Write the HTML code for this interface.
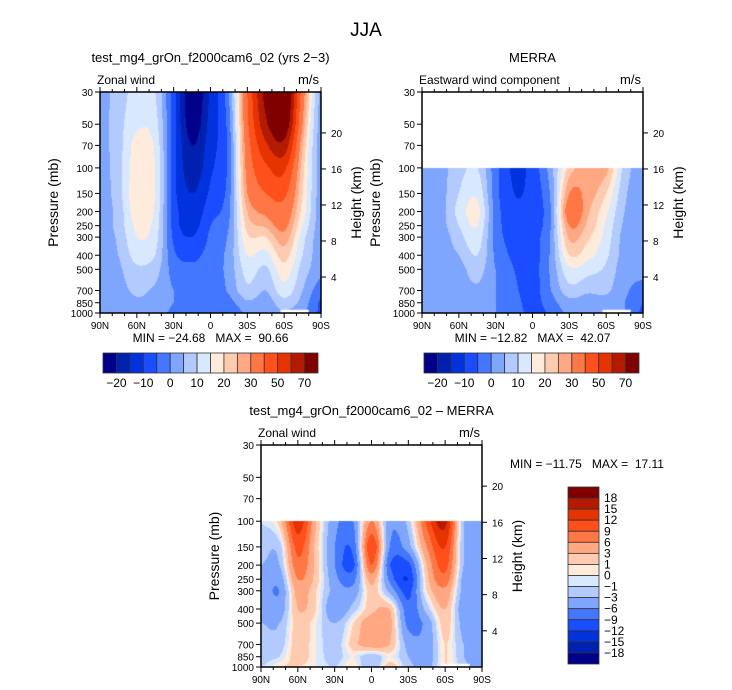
<!DOCTYPE html>
<html><head><meta charset="utf-8">
<style>
body{margin:0;background:#fff;}
#wrap{position:relative;width:732px;height:690px;overflow:hidden;font-family:"Liberation Sans",sans-serif;}
svg text{font-family:"Liberation Sans",sans-serif;fill:#000;white-space:pre;}
canvas{position:absolute;}
</style></head>
<body>
<div id="wrap">
<canvas id="c1"></canvas>
<canvas id="c2"></canvas>
<canvas id="c3"></canvas>
<svg id="svg" width="732" height="690" style="position:absolute;left:0;top:0"></svg>
</div>
<script>
// ---------- data ----------
const latLabels = ["90N","60N","30N","0","30S","60S","90S"];
const lats = [90,75,60,45,30,15,0,-15,-30,-45,-60,-75,-90];
const presLevels = [30,50,70,100,150,200,250,300,400,500,700,850,1000];
const presTicks = [30,50,70,100,150,200,250,300,400,500,700,850,1000];
const heightTicks = [4,8,12,16,20];
const topLevels = [-20,-15,-10,-5,0,5,10,15,20,25,30,40,50,60,70];
const topLevelLabels = ["-20","-10","0","10","20","30","50","70"];
const diffLevels = [-18,-15,-12,-9,-6,-3,-1,0,1,3,6,9,12,15,18];
const diffLevelLabels = ["18","15","12","9","6","3","1","0","-1","-3","-6","-9","-12","-15","-18"];
const colors = ["#00008a","#0020b0","#0033dd","#1a4dff","#4477ff","#7fa6ff","#b3caff","#d8e8ff","#ffebdb","#ffcbb0","#ffa882","#ff7744","#ff4f1a","#e63300","#b31a00","#800000"];

// model zonal wind (rows = presLevels, cols = lats)
const modelWind = [
[3,7,12,10,-8,-25,-14,0,40,75,88,35,3],
[3,8,14,12,-8,-23,-13,-2,38,68,80,30,2],
[3,8,17,14,-8,-20,-12,-3,35,58,66,25,2],
[3,8,18,15,-8,-18,-11,-3,33,48,52,22,2],
[2,8,19,15,-8,-15,-9,-2,30,40,42,20,2],
[2,7,18,14,-7,-13,-7,-1,25,32,36,18,2],
[2,7,16,13,-7,-12,-5,0,22,26,32,15,2],
[2,6,15,12,-6,-10,-4,1,19,20,28,12,2],
[2,5,12,10,-4,-6,-3,2,15,13,22,10,2],
[2,4,9,7,-2,-4,-3,2,12,9,18,8,2],
[2,3,6,4,0,-3,-4,1,9,5,13,5,-3],
[2,2,4,3,0,-2,-5,-2,4,2,8,3,-6],
[2,2,3,2,-1,-2,-4,-5,1,1,4,1,-6]];
// MERRA (null = no data above 100 mb)
const merraWind = [
null,null,null,
[2,3,8,10,-3,-11,-8,3,22,27,27,8,3],
[2,3,10,14,-3,-10,-8,1,30,28,20,6,3],
[2,3,12,17,-2,-9,-7,0,36,26,16,5,2],
[2,3,10,15,-2,-8,-7,0,30,24,14,4,2],
[2,2,8,13,-2,-7,-7,1,26,21,13,3,2],
[2,2,5,10,-1,-6,-7,1,20,17,11,3,2],
[1,1,3,7,0,-5,-7,1,14,12,9,2,2],
[1,1,2,4,0,-4,-7,0,8,6,6,1,-2],
[1,1,1,2,0,-3,-7,-2,3,2,3,0,-5],
[1,1,1,1,0,-2,-7,-4,1,0,1,0,-6]];
const diffWind = [
null,null,null,
[-1,2,14,3,-5,-6,6,-5,-2,10,16,-3,-3],
[-2,-2,10,2,-6,-8,12,-6,-4,6,12,-3,-3],
[-3,-3,8,2,-6,-10,9,-9,-10,3,10,-3,-4],
[-4,-5,6,2,-5,-7,4,-7,-12,2,8,-4,-4],
[-4,-6,4,1,-4,-5,2,-4,-10,1,5,-4,-4],
[-3,-5,3,1,-6,-2,2,3,-8,-2,3,-5,-3],
[-3,-3,2,0,-3,1,5,4,-7,-5,2,-4,-3],
[-2,-2,2,0,-2,2,5,3,-4,-5,1,-3,-3],
[-2,-1,2,0,-2,0,-3,0,-3,-5,1,-3,-6],
[-1,1,1,0,-1,1,-3,2,-2,-4,1,-2,-5]];

// ---------- layout ----------
const panels = [
 {id:"c1",x0:100,x1:321,y0:92,y1:313,data:modelWind,levels:topLevels,name:"model"},
 {id:"c2",x0:422,x1:643,y0:92,y1:313,data:merraWind,levels:topLevels,name:"merra"},
 {id:"c3",x0:261,x1:482,y0:445,y1:667,data:diffWind,levels:diffLevels,name:"diff"}];
const LP0=Math.log(30), LP1=Math.log(1000);
function yOfP(p,P){return P.y0+(Math.log(p)-LP0)/(LP1-LP0)*(P.y1-P.y0);}
function xOfLat(l,P){return P.x0+(90-l)/180*(P.x1-P.x0);}
function lvlIdx(v,levels){let i=0;while(i<levels.length&&v>=levels[i])i++;return i;}
const lpl = presLevels.map(Math.log);
function cr(row,fx){
  const n=row.length; let i=Math.min(n-2,Math.floor(fx)); const t=fx-i;
  const g=k=>row[Math.max(0,Math.min(n-1,k))];
  const p0=g(i-1),p1=g(i),p2=g(i+1),p3=g(i+2);
  return 0.5*((2*p1)+(-p0+p2)*t+(2*p0-5*p1+4*p2-p3)*t*t+(-p0+3*p1-3*p2+p3)*t*t*t);
}
function sample(data,lat,p){
  const fx=(90-lat)/15;
  const lp=Math.log(p); let j=0; while(j<11&&lp>lpl[j+1])j++;
  const ty=(lp-lpl[j])/(lpl[j+1]-lpl[j]);
  if(!data[j]) return null;
  const a=cr(data[j],fx), b=cr(data[j+1],fx);
  return a*(1-ty)+b*ty;
}
const rgb=colors.map(c=>[parseInt(c.substr(1,2),16),parseInt(c.substr(3,2),16),parseInt(c.substr(5,2),16)]);
panels.forEach(P=>{
  const cv=document.getElementById(P.id); const w=P.x1-P.x0,h=P.y1-P.y0;
  cv.width=w;cv.height=h;cv.style.left=P.x0+"px";cv.style.top=P.y0+"px";
  const ctx=cv.getContext("2d"); const im=ctx.createImageData(w,h);
  for(let y=0;y<h;y++){const p=Math.exp(LP0+(y+0.5)/h*(LP1-LP0));
    for(let x=0;x<w;x++){const lat=90-(x+0.5)/w*180; const v=sample(P.data,lat,p); const k=(y*w+x)*4;
      if(v===null){im.data[k]=255;im.data[k+1]=255;im.data[k+2]=255;im.data[k+3]=255;continue;}
      const c=rgb[lvlIdx(v,P.levels)]; im.data[k]=c[0];im.data[k+1]=c[1];im.data[k+2]=c[2];im.data[k+3]=255;}}
  ctx.putImageData(im,0,0);
  ctx.fillStyle="#fff"; const bx=xOfLat(-57,P)-P.x0, bx2=xOfLat(-80,P)-P.x0, by=yOfP(950,P)-P.y0;
  ctx.fillRect(bx,by,bx2-bx,h-by);
});

// ---------- svg ----------
const svg=document.getElementById("svg"); const NS="http://www.w3.org/2000/svg";
function el(tag,attrs,parent){const e=document.createElementNS(NS,tag);for(const k in attrs)e.setAttribute(k,attrs[k]);(parent||svg).appendChild(e);return e;}
function txt(s,x,y,size,anchor,parent,rot){const t=el("text",{x:x,y:y,"font-size":size,"text-anchor":anchor||"middle"},parent);if(rot)t.setAttribute("transform",`rotate(${rot} ${x} ${y})`);t.textContent=s.replace(/-/g,"\u2212");return t;}

const t0=txt("JJA",366,36,19);



const titles=[["test_mg4_grOn_f2000cam6_02 (yrs 2-3)","Zonal wind","MIN = -24.68   MAX =  90.66"],
 ["MERRA","Eastward wind component","MIN = -12.82   MAX =  42.07"],
 ["test_mg4_grOn_f2000cam6_02 - MERRA","Zonal wind","MIN = -11.75   MAX =  17.11"]];
panels.forEach((P,pi)=>{
  const g=el("g",{});
  
  
  const cx=(P.x0+P.x1)/2;
  const tt=txt(titles[pi][0].replace(" - "," \u2013 "),cx,P.y0-30,13,"middle",g);
  
  
  const st=txt(titles[pi][1],P.x0-3,P.y0-8,12,"start",g);
  
  
  const ut=txt("m/s",P.x1-2,P.y0-8,13,"end",g);
  
  
  el("rect",{x:P.x0,y:P.y0,width:P.x1-P.x0,height:P.y1-P.y0,fill:"none",stroke:"#000","stroke-width":1.5},g);
  for(let l=90;l>=-90;l-=10){const x=xOfLat(l,P);const maj=l%30===0;const L=maj?5:3;
    el("line",{x1:x,y1:P.y1,x2:x,y2:P.y1+L,stroke:"#000"},g);
    el("line",{x1:x,y1:P.y0,x2:x,y2:P.y0-L,stroke:"#000"},g);}
  latLabels.forEach((s,i)=>{const x=xOfLat(90-30*i,P);const t=txt(s,x,P.y1+16,10,"middle",g);
    
    });
  presTicks.forEach(p=>{const y=yOfP(p,P);el("line",{x1:P.x0,y1:y,x2:P.x0-5,y2:y,stroke:"#000"},g);
    const t=txt(String(p),P.x0-7,y+4,10,"end",g);
    
    });
  heightTicks.forEach(z=>{const y=yOfP(1000*Math.exp(-z/7),P);el("line",{x1:P.x1,y1:y,x2:P.x1+5,y2:y,stroke:"#000"},g);
    const t=txt(String(z),P.x1+10,y+4,10,"start",g);
    
    });
  const cy=(P.y0+P.y1)/2;
  const pl=txt("Pressure (mb)",P.x0-42,cy,14,"middle",g,-90);
  
  
  const hl=txt("Height (km)",P.x1+40,cy,14,"middle",g,-90);
  
  
  let mm;
  if(pi<2) mm=txt(titles[pi][2],cx,P.y1+29,12,"middle",g);
  else mm=txt(titles[pi][2],510,468,12,"start",g);
  
  
});
[[103,318],[424,639]].forEach((b,bi)=>{
  const g=el("g",{});
  
  
  const w=(b[1]-b[0])/colors.length;
  colors.forEach((c,i)=>{const r=el("rect",{x:b[0]+i*w,y:353,width:w,height:20,fill:c,stroke:"#333","stroke-width":0.8},g);
    
    });
  topLevelLabels.forEach((s,i)=>{const t=txt(s,b[0]+(1+2*i)*w,387,12,"middle",g);
    
    });
});
{const g=el("g",{});
 
 
 const y0=487,y1=664,h=(y1-y0)/colors.length;
 colors.slice().reverse().forEach((c,i)=>{const r=el("rect",{x:568,y:y0+i*h,width:31,height:h,fill:c,stroke:"#333","stroke-width":0.8},g);
   
   });
 diffLevelLabels.forEach((s,i)=>{const t=txt(s,604,y0+(i+1)*h+4,12,"start",g);
   
   });
}
</script>
</body></html>
